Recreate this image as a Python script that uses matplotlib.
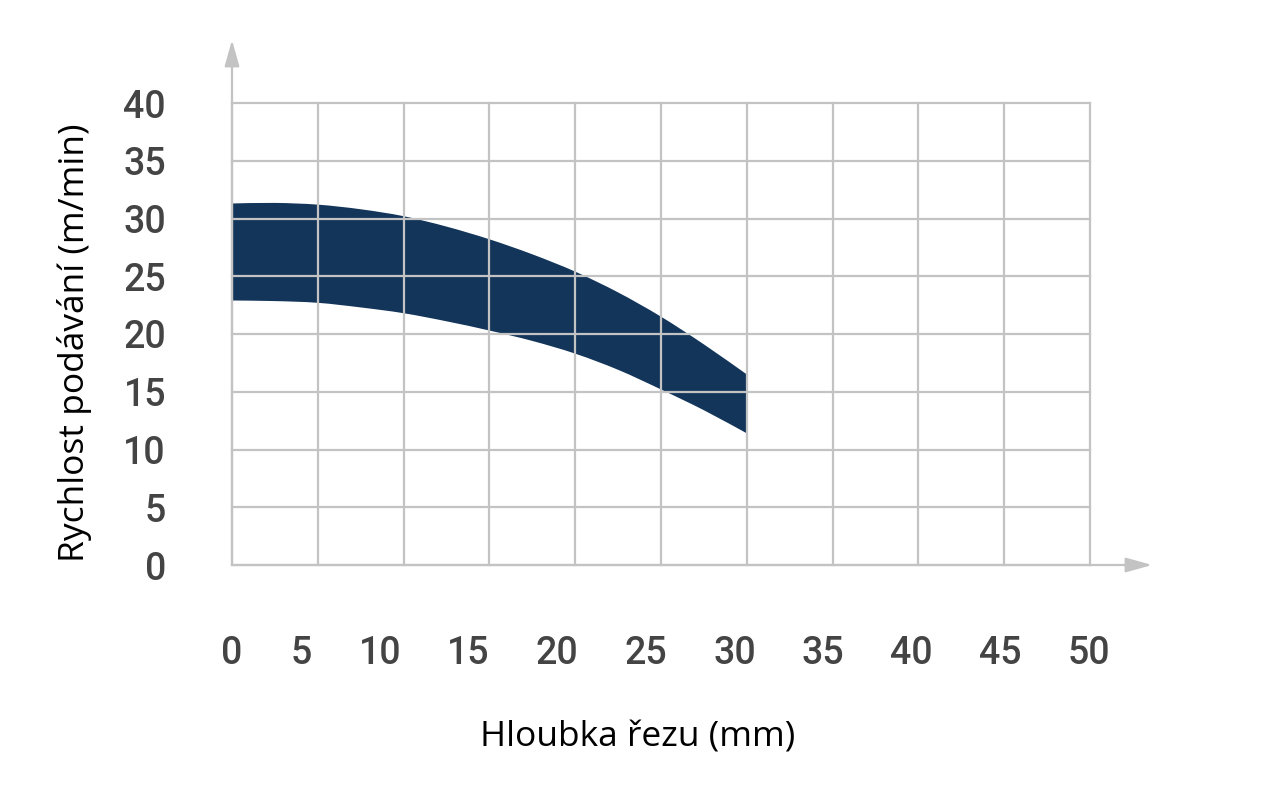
import matplotlib
matplotlib.use("Agg")
import matplotlib.pyplot as plt
import numpy as np
from matplotlib.path import Path
from matplotlib.patches import PathPatch
from matplotlib.transforms import offset_copy

# ---- data ----
depth_mm = [0, 2.5, 5, 7.5, 10, 12.5, 15, 17.5, 20, 22.5, 25, 27.5, 30]
feed_upper = [31.3, 31.35, 31.2, 30.8, 30.2, 29.3, 28.2, 26.9, 25.4, 23.6, 21.5, 19.1, 16.5]
feed_lower = [22.9, 22.85, 22.7, 22.3, 21.8, 21.1, 20.3, 19.4, 18.3, 16.9, 15.2, 13.4, 11.4]
x_ticks = [0, 5, 10, 15, 20, 25, 30, 35, 40, 45, 50]
y_ticks = [0, 5, 10, 15, 20, 25, 30, 35, 40]
x_label = "Hloubka řezu (mm)"
y_label = "Rychlost podávání (m/min)"

# ---- style ----
W, H, DPI = 1276, 808, 100
GRID = "#c3c3c3"
FILL = "#13355a"
TICK_COLOR = "#444444"
TICK_FONT = ["Roboto", "DejaVu Sans"]
LABEL_FONT = ["Open Sans", "DejaVu Sans"]


def smooth_segments(xs, ys):
    """Catmull-Rom style cubic Bezier pieces through the given points."""
    xs = np.asarray(xs, float)
    ys = np.asarray(ys, float)
    pts = np.column_stack([xs, ys])
    n = len(pts)
    verts, codes = [], []
    for i in range(n - 1):
        p0 = pts[max(i - 1, 0)]
        p1 = pts[i]
        p2 = pts[i + 1]
        p3 = pts[min(i + 2, n - 1)]
        c1 = p1 + (p2 - p0) / 6.0
        c2 = p2 - (p3 - p1) / 6.0
        verts += [tuple(c1), tuple(c2), tuple(p2)]
        codes += [Path.CURVE4] * 3
    return verts, codes


fig = plt.figure(figsize=(W / DPI, H / DPI), dpi=DPI)
ax = fig.add_axes([232 / W, 1 - 565 / H, (1090 - 232) / W, (565 - 103) / H])
ax.set_xlim(0, 50)
ax.set_ylim(0, 40)
for s in ax.spines.values():
    s.set_visible(False)

# band: upper edge left->right, then lower edge right->left
up_v, up_c = smooth_segments(depth_mm, feed_upper)
lo_v, lo_c = smooth_segments(depth_mm[::-1], feed_lower[::-1])
verts = [(depth_mm[0], feed_upper[0])] + up_v + [(depth_mm[-1], feed_lower[-1])] + lo_v + [(0, 0)]
codes = [Path.MOVETO] + up_c + [Path.LINETO] + lo_c + [Path.CLOSEPOLY]
ax.add_patch(PathPatch(Path(verts, codes), facecolor=FILL, edgecolor="none", lw=0, zorder=1))

ax.set_xticks(x_ticks)
ax.set_yticks(y_ticks)
ax.grid(True, color=GRID, lw=1.6, zorder=2)
ax.set_axisbelow(False)
for l in ax.get_xgridlines() + ax.get_ygridlines():
    l.set_clip_on(False)
ax.tick_params(length=0, labelbottom=False, labelleft=False)

# axis lines with arrows
ax.annotate("", xy=(0, 1.0 + 63 / (565 - 103)), xytext=(0, 0), xycoords="axes fraction",
            arrowprops=dict(arrowstyle="-|>,head_length=1.6,head_width=0.45", color=GRID, lw=1.6,
                            shrinkA=0, shrinkB=0), annotation_clip=False)
ax.annotate("", xy=(1 + 62 / (1090 - 232), 0), xytext=(0, 0), xycoords="axes fraction",
            arrowprops=dict(arrowstyle="-|>,head_length=1.6,head_width=0.45", color=GRID, lw=1.6,
                            shrinkA=0, shrinkB=0), annotation_clip=False)

# y tick labels
ytr = offset_copy(ax.get_yaxis_transform(), fig=fig, x=-66, y=0, units="dots")
for v in y_ticks:
    ax.text(0, v, str(v), transform=ytr, ha="right", va="center_baseline",
            fontsize=27, color=TICK_COLOR, family=TICK_FONT, fontweight="medium")

# x tick labels: laid out with equal gaps between labels (space-between)
px_per_unit = (1090 - 232) / 50
digit_w = 19.5 / px_per_unit
left_edge = -9.75 / px_per_unit
right_edge = 50 + (1108.5 - 1090) / px_per_unit
widths = [len(str(v)) * digit_w for v in x_ticks]
gap = (right_edge - left_edge - sum(widths)) / (len(x_ticks) - 1)
xtr = offset_copy(ax.get_xaxis_transform(), fig=fig, x=0, y=-85, units="dots")
pos = left_edge
for v, w in zip(x_ticks, widths):
    ax.text(pos + w / 2, 0, str(v), transform=xtr, ha="center", va="center_baseline",
            fontsize=27, color=TICK_COLOR, family=TICK_FONT, fontweight="medium")
    pos += w + gap

fig.text(638 / W, 1 - 738 / H, x_label, ha="center", va="center", fontsize=25.5,
         color="black", family=LABEL_FONT)
fig.text(75 / W, 1 - 343 / H, y_label, ha="center", va="center", rotation=90,
         fontsize=25.5, color="black", family=LABEL_FONT)

fig.savefig("out.png", dpi=DPI)
